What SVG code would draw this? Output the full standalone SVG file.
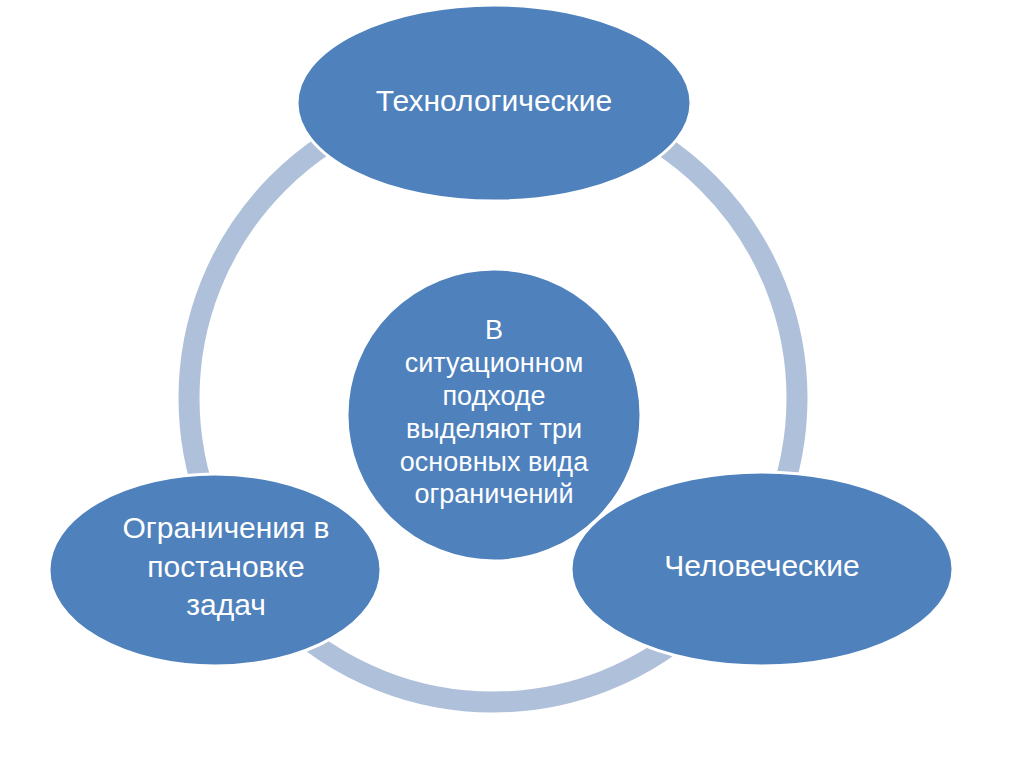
<svg xmlns="http://www.w3.org/2000/svg" width="1024" height="767" viewBox="0 0 1024 767">
<style>
.node{fill:#4F81BD;stroke:#FFFFFF;stroke-width:3}
.t{fill:#FFFFFF;font-family:"Liberation Sans","DejaVu Sans",sans-serif;text-anchor:middle}
.big{font-size:30px}
.mid{font-size:27px}
</style>
<rect width="1024" height="767" fill="#FFFFFF"/>
<g id="connectors">
<circle cx="493" cy="398" r="304" fill="none" stroke="#AFC0DA" stroke-width="21"/>
</g>
<g id="center">
<ellipse class="node" cx="494" cy="415" rx="147" ry="146"/>
<text class="t mid" x="494" y="339">В</text>
<text class="t mid" x="494" y="372">ситуационном</text>
<text class="t mid" x="494" y="405">подходе</text>
<text class="t mid" x="494" y="438">выделяют три</text>
<text class="t mid" x="494" y="471">основных вида</text>
<text class="t mid" x="494" y="503">ограничений</text>
</g>
<g id="top">
<ellipse class="node" cx="494" cy="103" rx="197" ry="98"/>
<text class="t big" x="494" y="111">Технологические</text>
</g>
<g id="right">
<ellipse class="node" cx="762" cy="569" rx="191" ry="97"/>
<text class="t big" x="762" y="576">Человеческие</text>
</g>
<g id="left">
<ellipse class="node" cx="215" cy="570" rx="166" ry="96"/>
<text class="t big" x="226" y="538">Ограничения в</text>
<text class="t big" x="226" y="577">постановке</text>
<text class="t big" x="226" y="615">задач</text>
</g>
</svg>
